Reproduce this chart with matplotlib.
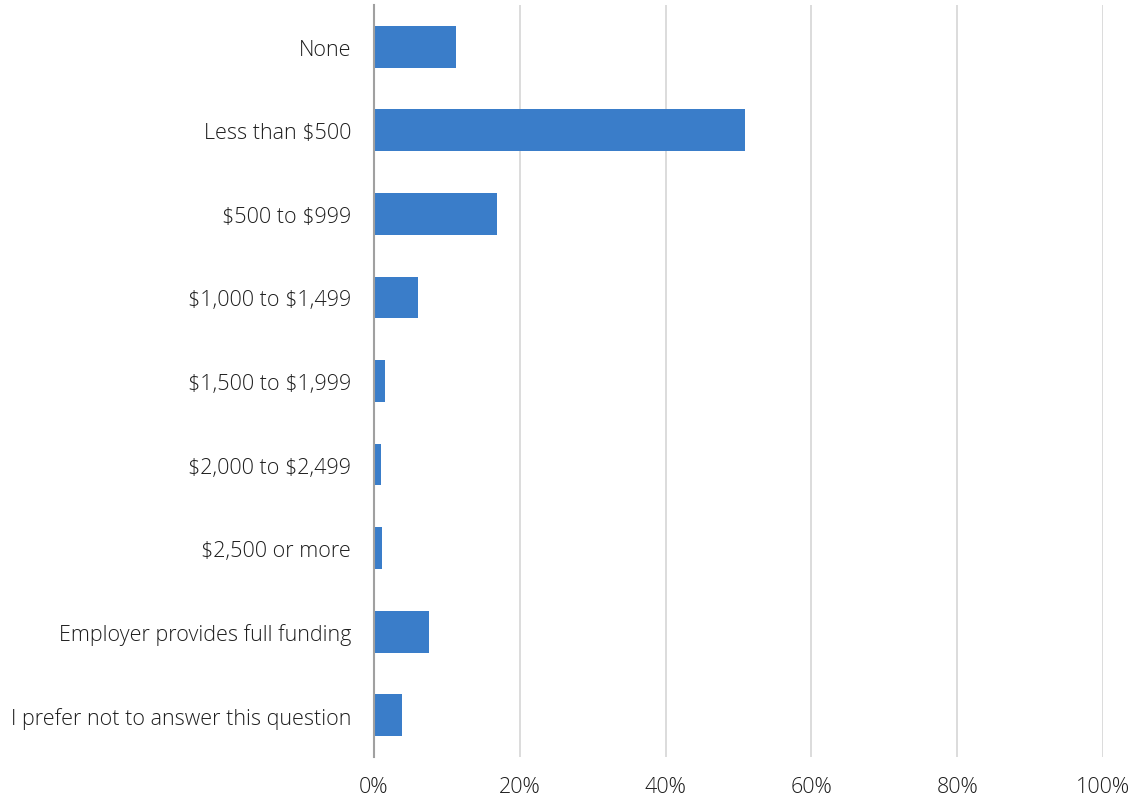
import numpy as np
import matplotlib.pyplot as plt

categories = ['None', 'Less than $500', '$500 to $999', '$1,000 to $1,499',
              '$1,500 to $1,999', '$2,000 to $2,499', '$2,500 or more',
              'Employer provides full funding', 'I prefer not to answer this question']
values = [11.2, 50.9, 16.9, 6.0, 1.5, 1.0, 1.1, 7.5, 3.8]
xticks = [0, 20, 40, 60, 80, 100]

plt.rcParams['font.family'] = ['Open Sans', 'DejaVu Sans']
plt.rcParams['text.parse_math'] = False
fontsize = 15.5
text_color = '#1e1e1e'

fig = plt.figure()
fig.set_size_inches(11.32, 8.03)
ax = fig.add_axes([374 / 1132, 1 - 758 / 803, (1103 - 374) / 1132, (758 - 6) / 803])

y = np.arange(len(categories))
ax.barh(y, values, height=0.5, color='#3A7DC9', zorder=3)

ax.set_xlim(0, 100)
ax.set_ylim(len(categories) - 0.5, -0.5)
ax.set_xticks(xticks)
ax.set_xticklabels(['%d%%' % t for t in xticks], fontsize=fontsize, color=text_color, fontweight='light')
ax.set_yticks(y)
ax.set_yticklabels(categories, fontsize=fontsize, color=text_color, fontweight='light')
ax.tick_params(axis='both', length=0)
ax.tick_params(axis='x', pad=14)
ax.tick_params(axis='y', pad=16.5)

ax.grid(axis='x', color='#D9D9D9', linewidth=1.3, zorder=0)
for s in ['top', 'right', 'bottom']:
    ax.spines[s].set_visible(False)
ax.spines['left'].set_color('#A0A0A0')
ax.spines['left'].set_linewidth(1.5)
ax.spines['left'].set_zorder(4)

plt.savefig('out.png', dpi=100)
plt.close()
